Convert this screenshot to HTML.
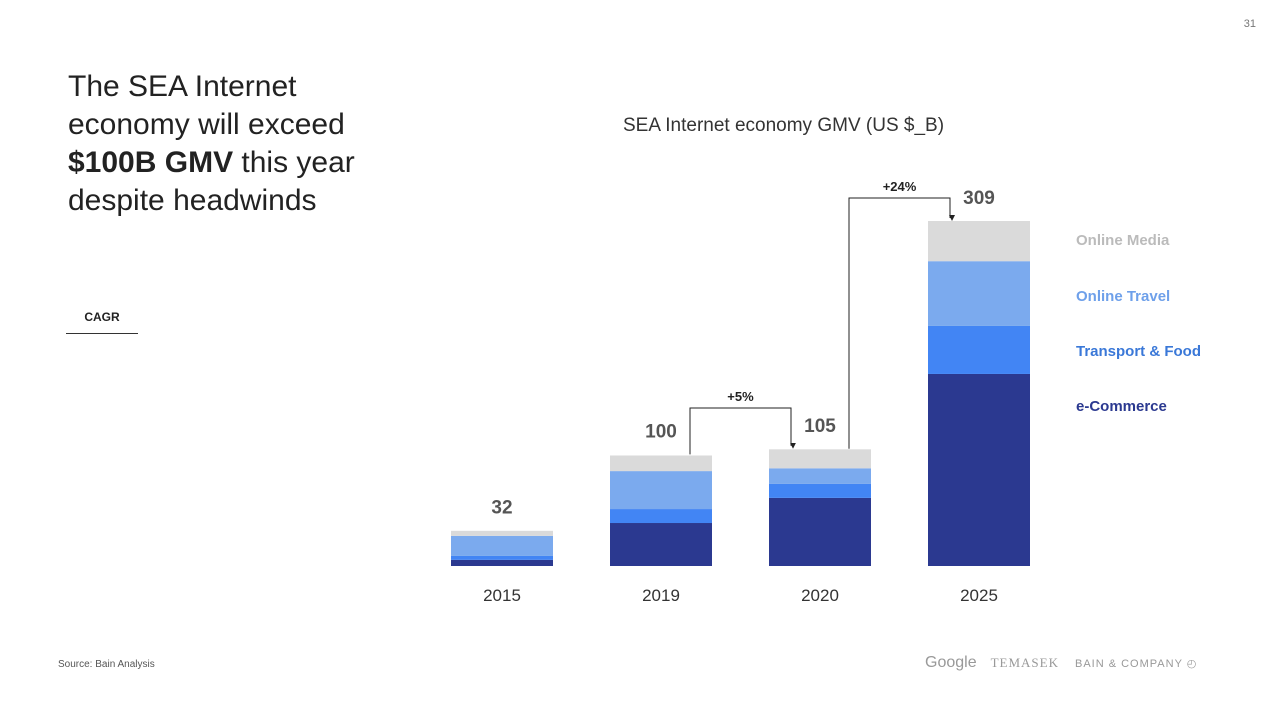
<!DOCTYPE html>
<html><head><meta charset="utf-8"><style>
body{margin:0;width:1280px;height:720px;background:#fff;font-family:"Liberation Sans",sans-serif;position:relative;overflow:hidden}
.a{position:absolute}
</style></head><body>
<div class="a" style="right:24px;top:18px;font-size:11px;color:#777">31</div>
<div class="a" style="left:68px;top:68px;font-size:30px;line-height:38px;color:#222;width:340px">The SEA Internet economy will exceed <b>$100B GMV</b> this year despite headwinds</div>
<div class="a" style="left:66px;top:310px;width:72px;text-align:center;font-size:12px;font-weight:bold;color:#222;border-bottom:1px solid #333;padding-bottom:9px">CAGR</div>
<div class="a" style="left:623px;top:115px;font-size:19px;color:#333">SEA Internet economy GMV (US $_B)</div>
<div class="a" style="left:58px;top:659px;font-size:10px;color:#555">Source: Bain Analysis</div>
<div class="a" style="left:925px;top:654px;font-size:15px;color:#999;white-space:nowrap"><span style="font-size:16px">Google</span><span style="margin-left:14px;font-family:'Liberation Serif',serif;letter-spacing:1px;font-size:13px">TEMASEK</span><span style="margin-left:16px;font-size:11px;letter-spacing:1px">BAIN &amp; COMPANY ◴</span></div>
<svg class="a" style="left:0;top:0" width="1280" height="720">
<defs><marker id="ar" markerWidth="6" markerHeight="6" refX="3" refY="5" orient="auto"><path d="M0,0L6,0L3,6z" fill="#222" transform="rotate(-90 3 3)"/></marker></defs>
<g id="g"></g>
</svg>
<script>
const years=["2015","2019","2020","2025"];
const totals=[32,100,105,309];
const ecommerce=[5.5,38.5,61,172];
const transport=[3.5,12.5,12.5,43];
const travel=[18,34,14,58];
const media=[4.5,14,17,36];
const seriesNames=["e-Commerce","Transport & Food","Online Travel","Online Media"];
const colors=["#2b3990","#4285f4","#7baaee","#dadada"];
const series=[ecommerce,transport,travel,media];
const base=566,k=345/309,x0=451,step=159,bw=102;
const y=v=>base-v*k, x=i=>x0+i*step;
const g=document.getElementById('g');
const NS="http://www.w3.org/2000/svg";
function mk(t,a){const e=document.createElementNS(NS,t);for(const n in a)e.setAttribute(n,a[n]);g.appendChild(e);return e;}
years.forEach((yr,i)=>{
 let acc=0;
 series.forEach((s,j)=>{
  const r=mk('rect',{x:x(i),y:y(acc+s[i]),width:bw,height:s[i]*k,fill:colors[j]});
  
  
  acc+=s[i];
 });
 const tl=mk('text',{x:x(i)+bw/2,y:y(totals[i])-17,'text-anchor':'middle','font-size':19,'font-weight':'bold',fill:'#555'});
 tl.textContent=totals[i];
 
 
 const xl=mk('text',{x:x(i)+bw/2,y:601,'text-anchor':'middle','font-size':17,fill:'#333'});
 xl.textContent=yr;
 
 
});
// CAGR connectors
const cagr=[[1,2,"+5%",408],[2,3,"+24%",198]];
cagr.forEach(c=>{
 const [a,b,lab,top]=c;
 const xa=a===1?x(a)+80:x(a)+80, xb=x(b)+22;
 const p=mk('path',{d:`M${xa},${y(totals[a])} V${top} H${xb} V${y(totals[b])-3}`,fill:'none',stroke:'#222','stroke-width':1,'marker-end':'url(#ar)'});
 
 
 const t=mk('text',{x:(xa+xb)/2,y:top-7,'text-anchor':'middle','font-size':13,'font-weight':'bold',fill:'#222'});
 t.textContent=lab;
 
 
});
// legend
const legY=[405,350,295,239];
const legC=["#2b3990","#3a78d8","#6ea0ea","#bbbbbb"];
seriesNames.forEach((n,j)=>{
 const t=mk('text',{x:1076,y:legY[j]+6,'font-size':15,'font-weight':'bold',fill:legC[j]});
 t.textContent=n;
 
 
});
</script>
</body></html>
